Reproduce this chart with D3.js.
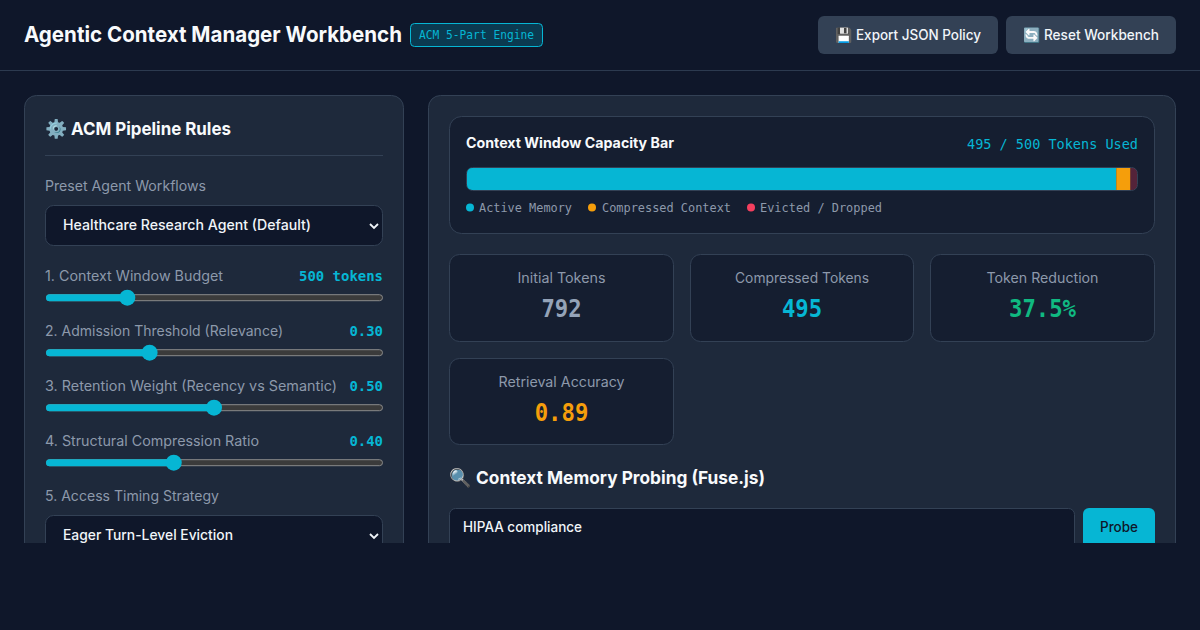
<!DOCTYPE html>
<html><head><meta charset="utf-8">
<script src="https://cdn.jsdelivr.net/npm/d3@7/dist/d3.min.js"></script>
<style>html,body{margin:0;padding:0;background:#0f172a;overflow:hidden}svg{display:block}</style>
</head><body><svg id="c" width="1200" height="630"></svg>
<script>
// ---- data ----
const capacityLabels = ["Active Memory", "Compressed Context", "Evicted / Dropped"];
const capacityValues = [484.5, 10.5, 5];
const capacityColors = ["#06b6d4", "#f59e0b", "#f43f5e"];
const capacityBudget = 500;
const sliderLabels = ["1. Context Window Budget", "2. Admission Threshold (Relevance)", "3. Retention Weight (Recency vs Semantic)", "4. Structural Compression Ratio"];
const sliderValues = [500, 0.30, 0.50, 0.40];
const sliderMins = [200, 0, 0, 0.1];
const sliderMaxs = [1500, 1, 1, 0.9];
const sliderTexts = ["500 tokens", "0.30", "0.50", "0.40"];
const metricLabels = ["Initial Tokens", "Compressed Tokens", "Token Reduction", "Retrieval Accuracy"];
const metricTexts = ["792", "495", "37.5%", "0.89"];
const metricColors = ["#94a3b8", "#06b6d4", "#10b981", "#f59e0b"];

const SANS = "Inter, 'Noto Sans', 'Noto Color Emoji', sans-serif";
const MONO = "'DejaVu Sans Mono', 'Liberation Mono', monospace";
const svg = d3.select("#c");
const defs = svg.append("defs");
defs.append("clipPath").attr("id","page").append("rect").attr("x",0).attr("y",0).attr("width",1200).attr("height",543);
defs.append("clipPath").attr("id","barclip").append("rect").attr("x",467).attr("y",168).attr("width",670).attr("height",22).attr("rx",5);

function box(p,x,y,w,h,r,fill,stroke){
  const i=stroke?.5:0;
  return p.append("rect").attr("x",x+i).attr("y",y+i).attr("width",w-2*i).attr("height",h-2*i).attr("rx",r)
    .attr("fill",fill).attr("stroke",stroke||"none");
}
function txt(p,x,y,s,o){
  o=o||{};
  const e=p.append("text").attr("x",x).attr("y",y).text(s)
    .attr("font-family",o.mono?MONO:SANS).attr("font-size",o.size||14).attr("font-weight",o.weight||400)
    .attr("fill",o.fill||"#f1f5f9").attr("text-anchor",o.anchor||"start");
  if(o.w) e.attr("textLength",o.w).attr("lengthAdjust","spacingAndGlyphs");
  return e;
}

svg.append("rect").attr("width",1200).attr("height",630).attr("fill","#0f172a");

// header
svg.append("line").attr("x1",0).attr("x2",1200).attr("y1",70.5).attr("y2",70.5).attr("stroke","#2c3a4f");
txt(svg,24,42,"Agentic Context Manager Workbench",{size:22,weight:700,fill:"#f8fafc",w:378});
box(svg,410,23,133,24,4,"#0b3a50","#06b6d4");
txt(svg,419,39,"ACM 5-Part Engine",{mono:1,size:13,fill:"#06b6d4",w:115});
box(svg,818,16,180,38,6,"#334155");
txt(svg,835,40,"💾",{size:14});
txt(svg,856,40,"Export JSON Policy",{size:14,weight:500,fill:"#f1f5f9",w:125});
box(svg,1006,16,170,38,6,"#334155");
txt(svg,1023,40,"🔄",{size:14});
txt(svg,1044,40,"Reset Workbench",{size:14,weight:500,fill:"#f1f5f9",w:115});

const g = svg.append("g").attr("clip-path","url(#page)");

// left panel
box(g,24,95,380,560,12,"#1e293b","#334155");
txt(g,45,135,"⚙️",{size:18});
txt(g,71,135,"ACM Pipeline Rules",{size:18,weight:700,fill:"#f8fafc",w:160});
g.append("line").attr("x1",45).attr("x2",383).attr("y1",155.5).attr("y2",155.5).attr("stroke","#334155");
txt(g,45,191,"Preset Agent Workflows",{size:14,fill:"#8d99ab",w:161});
box(g,45,205,338,41,8,"#0f172a","#334155");
txt(g,63,230,"Healthcare Research Agent (Default)",{size:14,weight:500,fill:"#f1f5f9",w:248});
const chevron = (p,cx,cy)=>p.append("path").attr("d",d3.line()([[cx-4,cy-2],[cx,cy+2],[cx+4,cy-2]])).attr("fill","none").attr("stroke","#f1f5f9").attr("stroke-width",1.8);
chevron(g,374,226);

// sliders
const rowY = d3.scaleLinear().domain([0,1]).range([276,331]);
sliderLabels.forEach((lab,i)=>{
  const y0=rowY(i);
  const wid=[178,238,292,214][i];
  txt(g,45,y0+5,lab,{size:14,fill:"#8d99ab",w:wid});
  txt(g,383,y0+5,sliderTexts[i],{mono:1,size:14,weight:700,fill:"#06b6d4",anchor:"end",w:sliderTexts[i].length*8.4});
  const ty=y0+21.7;
  const sx=d3.scaleLinear().domain([sliderMins[i],sliderMaxs[i]]).range([53,375]);
  const cx=sx(sliderValues[i]);
  g.append("rect").attr("x",46.5).attr("y",ty-3).attr("width",336).attr("height",6).attr("rx",3).attr("fill","#3b3b3b").attr("stroke","#8a8a8a");
  g.append("rect").attr("x",46).attr("y",ty-3.5).attr("width",cx-46).attr("height",7).attr("rx",3.5).attr("fill","#06b6d4");
  g.append("circle").attr("cx",cx).attr("cy",ty).attr("r",8).attr("fill","#06b6d4");
});
txt(g,45,501,"5. Access Timing Strategy",{size:14,fill:"#8d99ab",w:174});
box(g,45,515,338,41,8,"#0f172a","#334155");
txt(g,63,540,"Eager Turn-Level Eviction",{size:14,weight:500,fill:"#f1f5f9",w:170});
chevron(g,374,536);

// right panel
box(g,428,95,748,560,12,"#1e293b","#334155");
box(g,449,116,706,118,12,"#151e30","#334155");
txt(g,466,148,"Context Window Capacity Bar",{size:14,weight:700,fill:"#f8fafc",w:208});
txt(g,1138,149,"495 / 500 Tokens Used",{mono:1,size:14,fill:"#06b6d4",anchor:"end",w:171});

const x = d3.scaleLinear().domain([0,capacityBudget]).range([467,1137]);
box(g,466,167,672,24,6,"#0f172a","#334155");
const bar=g.append("g").attr("clip-path","url(#barclip)");
let acc=0;
capacityValues.forEach((v,i)=>{
  bar.append("rect").attr("x",x(acc)).attr("y",168).attr("width",x(acc+v)-x(acc)).attr("height",22)
    .attr("fill",capacityColors[i]).attr("opacity",i===2?0.3:1);
  acc+=v;
});
const legX=[470,592,751], legTx=[479,602,760], legW=[93,129,122];
capacityLabels.forEach((l,i)=>{
  g.append("circle").attr("cx",legX[i]).attr("cy",207.5).attr("r",4).attr("fill",capacityColors[i]);
  txt(g,legTx[i],212,l,{mono:1,size:13,fill:"#8d99ab",w:legW[i]});
});

// metrics
const mX=[449,690,930,449], mW=[225,224,225,225], mY=[254,254,254,358], mH=[88,88,88,87];
metricLabels.forEach((l,i)=>{
  box(g,mX[i],mY[i],mW[i],mH[i],10,"#151e30","#334155");
  const c=mX[i]+mW[i]/2;
  txt(g,c,mY[i]+29,l,{size:14,fill:"#8d99ab",anchor:"middle",w:[88,134,112,126][i]});
  txt(g,c,mY[i]+63,metricTexts[i],{mono:1,size:24,weight:700,fill:metricColors[i],anchor:"middle",w:metricTexts[i].length*13.4});
});

// probe
txt(g,449,484,"🔍",{size:18});
txt(g,476,484,"Context Memory Probing (Fuse.js)",{size:18,weight:700,fill:"#f8fafc",w:289});
box(g,449,508,626,60,6,"#0f172a","#334155");
txt(g,463,532,"HIPAA compliance",{size:14,weight:500,fill:"#f1f5f9",w:119});
box(g,1083,508,72,60,6,"#06b6d4");
txt(g,1119,532,"Probe",{size:14,weight:500,fill:"#0f172a",anchor:"middle",w:38});
</script></body></html>
